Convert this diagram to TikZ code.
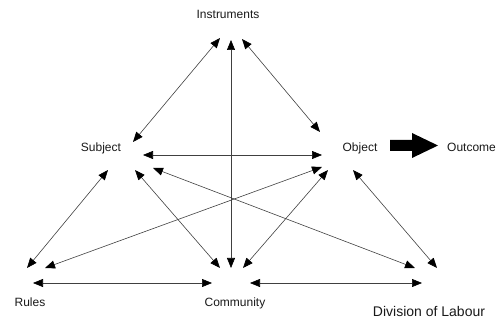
\documentclass[tikz,border=0pt]{standalone}
\usepackage{fontspec}
\setmainfont{Liberation Sans}
\usetikzlibrary{arrows.meta}
\begin{document}
\begin{tikzpicture}[x=1pt,y=-1pt,
  lbl/.style={anchor=base,inner sep=0pt,text=black!90,font=\fontsize{12}{14}\selectfont},
  link/.style={draw=black!75,line width=0.6pt,{Triangle[length=10pt,width=8pt,black]}-{Triangle[length=10pt,width=8pt,black]}}]
\useasboundingbox (0,0) rectangle (496,320);
% labels
\node[lbl] (instr) at (228,19) {Instruments};
\node[lbl] (subj) at (101,152) {Subject};
\node[lbl] (obj) at (360,152) {Object};
\node[lbl,anchor=base west] (out) at (447,152) {Outcome};
\node[lbl] (rules) at (30,307) {Rules};
\node[lbl] (comm) at (235,307) {Community};
\node[lbl,font=\fontsize{14}{16}\selectfont] (dol) at (429,317) {Division of Labour};
% endpoints
\coordinate (iS) at (220,38);   \coordinate (sI) at (133,142);
\coordinate (iO) at (242,39);   \coordinate (oI) at (320,132);
\coordinate (iC) at (231,40);   \coordinate (cI) at (231,268);
\coordinate (sO) at (143,155);  \coordinate (oS) at (322,155);
\coordinate (sR) at (108,170);  \coordinate (rS) at (27,268);
\coordinate (sC) at (135,170);  \coordinate (cS) at (220,268);
\coordinate (sD) at (153,168);  \coordinate (dS) at (415,268);
\coordinate (oR) at (322,167);  \coordinate (rO) at (45,268);
\coordinate (oC) at (328,170);  \coordinate (cO) at (243,268);
\coordinate (oD) at (353,170);  \coordinate (dO) at (437,268);
\coordinate (rC) at (33,283);   \coordinate (cR) at (212,283);
\coordinate (cD) at (250,283);  \coordinate (dC) at (422,283);
% connectors
\draw[link] (iS) -- (sI);
\draw[link] (iO) -- (oI);
\draw[link] (iC) -- (cI);
\draw[link] (sO) -- (oS);
\draw[link] (sR) -- (rS);
\draw[link] (sC) -- (cS);
\draw[link] (sD) -- (dS);
\draw[link] (oR) -- (rO);
\draw[link] (oC) -- (cO);
\draw[link] (oD) -- (dO);
\draw[link] (rC) -- (cR);
\draw[link] (cD) -- (dC);
% big arrow Object -> Outcome
\fill[black] (390,140) -- (412,140) -- (412,133) -- (438,145.5) -- (412,158) -- (412,151) -- (390,151) -- cycle;
\end{tikzpicture}
\end{document}
